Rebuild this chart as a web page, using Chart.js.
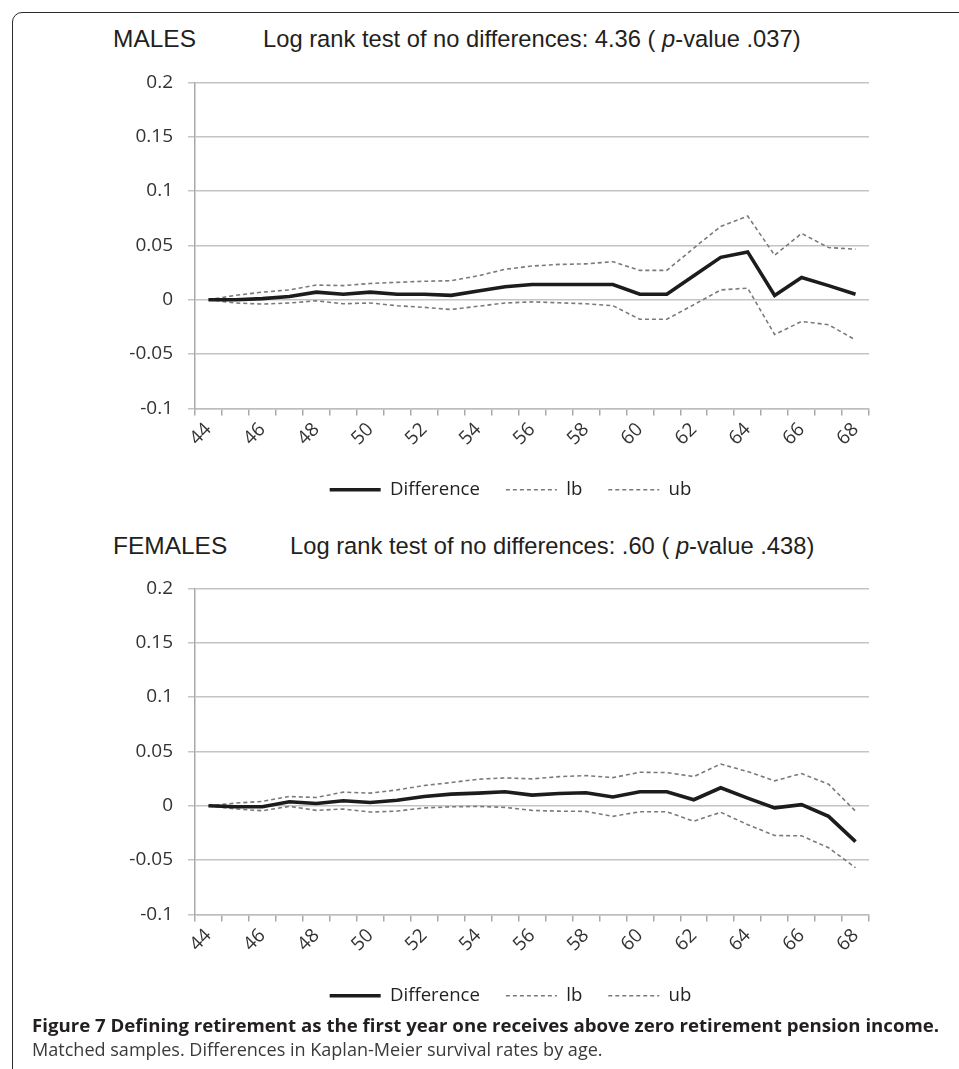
<!DOCTYPE html>
<html>
<head>
<meta charset="utf-8">
<script src="https://cdn.jsdelivr.net/npm/chart.js@4.4.0/dist/chart.umd.min.js"></script>
<style>
html,body{margin:0;padding:0;background:#fff;}
body{width:959px;height:1069px;overflow:hidden;position:relative;}
#frame{position:absolute;left:12px;top:12px;width:1000px;height:1100px;border:1.5px solid #2b2b2b;border-radius:10px;box-sizing:border-box;}
.t{position:absolute;white-space:nowrap;line-height:1;color:#231f20;}
.ar{font-family:"Liberation Sans",Arial,sans-serif;}
.os{font-family:"Open Sans",sans-serif;}
canvas{position:absolute;left:0;}
</style>
</head>
<body>
<div id="frame"></div>

<div class="t ar" id="t1a" data-x="113" data-base="48" data-w="83" data-r="0.8465">MALES</div>
<div class="t ar" id="t1b" data-x="263" data-base="48" data-w="538" data-r="0.8465">Log rank test of no differences: 4.36 ( <i>p</i>-value .037)</div>
<canvas id="c1" width="959" height="455" style="top:56px"></canvas>

<div class="t ar" id="t2a" data-x="113" data-base="555" data-same="t1a" data-r="0.8465">FEMALES</div>
<div class="t ar" id="t2b" data-x="290" data-base="555" data-same="t1b" data-r="0.8465">Log rank test of no differences: .60 ( <i>p</i>-value .438)</div>
<canvas id="c2" width="959" height="455" style="top:562px"></canvas>

<div class="t os" id="cap1" data-x="32" data-base="1033" data-w="908" data-r="0.888" style="font-weight:700">Figure 7 Defining retirement as the first year one receives above zero retirement pension income.</div>
<div class="t os" id="cap2" data-x="32" data-base="1056" data-w="571" data-r="0.888" style="color:#3a3a3a">Matched samples. Differences in Kaplan-Meier survival rates by age.</div>

<script>
// ---- Data ----
const ages = ['44','45','46','47','48','49','50','51','52','53','54','55','56','57','58','59','60','61','62','63','64','65','66','67','68'];

const malesDifference = [0, 0, 0.001, 0.003, 0.007, 0.005, 0.007, 0.005, 0.005, 0.004, 0.008, 0.012, 0.014, 0.014, 0.014, 0.014, 0.005, 0.005, 0.022, 0.039, 0.044, 0.004, 0.0205, 0.013, 0.005];
const malesLb = [0, -0.003, -0.004, -0.003, -0.001, -0.0037, -0.003, -0.0055, -0.007, -0.009, -0.006, -0.003, -0.002, -0.0028, -0.0037, -0.0055, -0.018, -0.018, -0.0046, 0.009, 0.0107, -0.032, -0.020, -0.023, -0.037];
const malesUb = [0, 0.004, 0.007, 0.009, 0.0135, 0.013, 0.015, 0.016, 0.017, 0.0175, 0.022, 0.028, 0.031, 0.0325, 0.033, 0.035, 0.027, 0.027, 0.0475, 0.0675, 0.077, 0.041, 0.061, 0.048, 0.0465];

const femalesDifference = [0, -0.001, -0.001, 0.0037, 0.002, 0.0046, 0.003, 0.005, 0.0085, 0.0107, 0.0116, 0.0128, 0.0098, 0.0113, 0.012, 0.008, 0.0128, 0.0128, 0.0055, 0.0165, 0.007, -0.002, 0.001, -0.0098, -0.033];
const femalesLb = [0, -0.003, -0.0046, -0.0006, -0.0043, -0.003, -0.0058, -0.0049, -0.002, -0.001, -0.0006, -0.0015, -0.0043, -0.005, -0.0052, -0.0098, -0.0055, -0.0055, -0.0143, -0.006, -0.0174, -0.0274, -0.0277, -0.0387, -0.057];
const femalesUb = [0, 0.0024, 0.004, 0.0085, 0.0076, 0.0125, 0.0116, 0.0146, 0.0186, 0.0213, 0.0244, 0.0256, 0.0247, 0.0268, 0.0277, 0.0259, 0.0308, 0.0305, 0.0268, 0.0384, 0.0314, 0.0229, 0.0296, 0.0198, -0.005];

const seriesNames = ['Difference', 'lb', 'ub'];
const yMin = -0.1, yMax = 0.2, yStep = 0.05;

// ---- Text placement (fit widths, baseline positioning) ----
document.querySelectorAll('.t').forEach(el => {
  let size = 20;
  if (el.dataset.same) {
    size = parseFloat(document.getElementById(el.dataset.same).style.fontSize);
  } else {
    el.style.fontSize = size + 'px';
    const w = el.getBoundingClientRect().width;
    size = size * parseFloat(el.dataset.w) / w;
  }
  el.style.fontSize = size + 'px';
  el.style.left = el.dataset.x + 'px';
  el.style.top = (parseFloat(el.dataset.base) - parseFloat(el.dataset.r) * size) + 'px';
});

// ---- Charts ----
function makeChart(id, diff, lb, ub) {
  const tickFont = {family: 'Open Sans', size: 19};
  return new Chart(document.getElementById(id), {
    type: 'line',
    data: {
      labels: ages,
      datasets: [
        {label: seriesNames[0], data: diff, borderColor: '#1c1c1c', backgroundColor: '#1c1c1c', borderWidth: 3.6, pointRadius: 0, tension: 0},
        {label: seriesNames[1], data: lb, borderColor: '#7a7a7a', backgroundColor: '#7a7a7a', borderWidth: 1.6, borderDash: [4, 3], pointRadius: 0, tension: 0},
        {label: seriesNames[2], data: ub, borderColor: '#7a7a7a', backgroundColor: '#7a7a7a', borderWidth: 1.6, borderDash: [4, 3], pointRadius: 0, tension: 0}
      ]
    },
    options: {
      responsive: false,
      animation: false,
      layout: {padding: {left: 100, right: 38, top: 20, bottom: 2}},
      plugins: {
        tooltip: {enabled: false},
        title: {display: false},
        legend: {
          display: true,
          position: 'bottom',
          labels: {
            font: {family: 'Open Sans', size: 18.6},
            color: '#222',
            boxWidth: 51,
            boxHeight: 0,
            padding: 26
          }
        }
      },
      scales: {
        x: {
          type: 'category',
          offset: true,
          grid: {offset: true, drawOnChartArea: false, drawTicks: true, tickLength: 7, color: '#a9a9a9', lineWidth: 1.5},
          border: {display: true, color: '#bdbdbd', width: 1.5},
          ticks: {
            autoSkip: false, minRotation: 45, maxRotation: 45, padding: 3,
            font: tickFont, color: '#333',
            callback: (v, i) => (i % 2 === 0 ? ages[i] : '')
          },
          afterFit: s => { s.height = 46; }
        },
        y: {
          position: 'left',
          min: yMin, max: yMax,
          grid: {color: '#c4c4c4', lineWidth: 1.5, tickLength: 7, drawTicks: true},
          border: {display: true, color: '#a9a9a9', width: 1.5},
          ticks: {
            stepSize: yStep, padding: 15, font: tickFont, color: '#333',
            callback: v => { const r = Math.round(v * 100) / 100; return (r === 0 ? 0 : r).toString(); }
          },
          afterFit: s => { s.width = 95; }
        },
        spacer: {
          type: 'linear',
          position: 'right',
          display: true,
          grid: {display: false, drawTicks: false},
          border: {display: false},
          ticks: {display: false},
          afterFit: s => { s.width = 52; }
        }
      }
    }
  });
}

makeChart('c1', malesDifference, malesLb, malesUb);
makeChart('c2', femalesDifference, femalesLb, femalesUb);
</script>
</body>
</html>
